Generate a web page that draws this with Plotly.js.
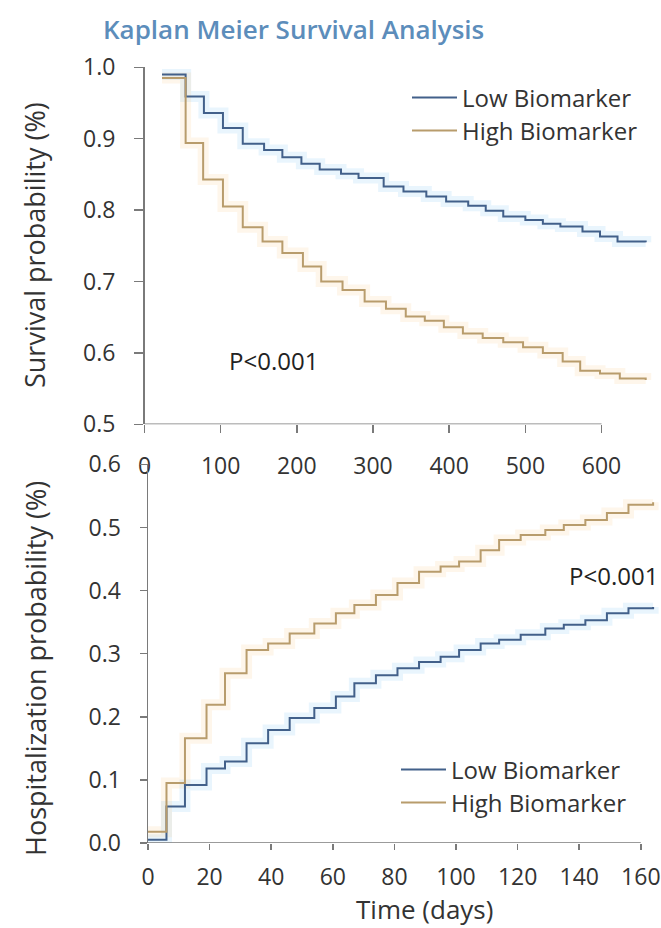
<!DOCTYPE html>
<html>
<head>
<meta charset="utf-8">
<script src="https://cdn.plot.ly/plotly-3.0.1.min.js"></script>
<style>
html,body{margin:0;padding:0;background:#fff;}
#chart{width:661px;height:928px;}
</style>
</head>
<body>
<div id="chart"></div>
<script>
// ---- Survival (top panel) ----
const survDaysLow = [23, 54, 78, 103, 129, 157, 181, 206, 230, 258, 281, 314, 340, 370, 396, 425, 448, 471, 500, 523, 546, 575, 598, 621, 658];
const survLow     = [0.990, 0.959, 0.936, 0.915, 0.893, 0.884, 0.874, 0.865, 0.857, 0.851, 0.845, 0.833, 0.826, 0.819, 0.812, 0.806, 0.799, 0.791, 0.786, 0.781, 0.777, 0.770, 0.763, 0.756, 0.755];
const survDaysHigh = [23, 54, 77, 103, 129, 155, 181, 208, 232, 260, 289, 317, 343, 368, 393, 418, 444, 471, 497, 523, 549, 572, 598, 624, 658];
const survHigh     = [0.985, 0.894, 0.843, 0.805, 0.776, 0.756, 0.740, 0.721, 0.700, 0.688, 0.672, 0.662, 0.651, 0.645, 0.636, 0.627, 0.621, 0.615, 0.608, 0.600, 0.588, 0.575, 0.571, 0.564, 0.562];

// ---- Hospitalization (bottom panel) ----
const hospDays = [0, 6, 12, 19, 25, 32, 39, 46, 54, 61, 67, 74, 81, 88, 95, 101, 108, 114, 121, 129, 135, 142, 149, 156, 164];
const hospLow  = [0.005, 0.058, 0.092, 0.118, 0.129, 0.158, 0.179, 0.198, 0.214, 0.232, 0.253, 0.266, 0.277, 0.287, 0.295, 0.306, 0.316, 0.322, 0.330, 0.340, 0.346, 0.353, 0.364, 0.372, 0.374];
const hospHigh = [0.018, 0.095, 0.166, 0.219, 0.269, 0.306, 0.316, 0.332, 0.348, 0.364, 0.377, 0.393, 0.412, 0.430, 0.438, 0.446, 0.464, 0.480, 0.488, 0.496, 0.504, 0.512, 0.523, 0.536, 0.540];

const seriesNames = ["Low Biomarker", "High Biomarker"];
const survTicks = [0, 100, 200, 300, 400, 500, 600];
const hospTicks = [0, 20, 40, 60, 80, 100, 120, 140, 160];

const W = 661, H = 928;
const FONT = "Open Sans, Lato, DejaVu Sans, sans-serif";
const blue = "#42608a", orange = "#b89c6c";
const blueHalo = "rgba(120,190,240,0.16)", orangeHalo = "rgba(250,195,120,0.15)";

function halo(x, y, color, xa, ya) {
  return {x: x, y: y, xaxis: xa, yaxis: ya, type: "scatter", mode: "lines",
    line: {shape: "hv", width: 11, color: color}, showlegend: false, hoverinfo: "skip"};
}
function main(x, y, color, name, xa, ya, leg) {
  return {x: x, y: y, xaxis: xa, yaxis: ya, type: "scatter", mode: "lines", name: name,
    line: {shape: "hv", width: 2, color: color}, legend: leg};
}

const data = [
  halo(survDaysLow, survLow, blueHalo, "x", "y"),
  halo(survDaysHigh, survHigh, orangeHalo, "x", "y"),
  main(survDaysLow, survLow, blue, seriesNames[0], "x", "y", "legend"),
  main(survDaysHigh, survHigh, orange, seriesNames[1], "x", "y", "legend2"),
  halo(hospDays, hospLow, blueHalo, "x2", "y2"),
  halo(hospDays, hospHigh, orangeHalo, "x2", "y2"),
  main(hospDays, hospLow, blue, seriesNames[0], "x2", "y2", "legend3"),
  main(hospDays, hospHigh, orange, seriesNames[1], "x2", "y2", "legend4")
];

const tickFont = {family: FONT, size: 23, color: "#333"};
const axCol = "#7a7a7a";

function leg(xpx, ypx) {
  return {x: xpx / W, y: (H - ypx) / H, xanchor: "left", yanchor: "middle",
    bgcolor: "rgba(0,0,0,0)", borderwidth: 0, font: {family: FONT, size: 24, color: "#333"},
    itemwidth: 45, tracegroupgap: 0};
}

const layout = {
  width: W, height: H,
  margin: {l: 0, r: 0, t: 0, b: 0, pad: 0},
  paper_bgcolor: "#fff", plot_bgcolor: "rgba(0,0,0,0)",
  font: {family: FONT, color: "#333"},
  showlegend: true,
  xaxis: {domain: [144.5 / W, 1], range: [0, (W - 144.5) / 0.7617], anchor: "y",
    tickmode: "array", tickvals: survTicks, ticktext: survTicks.map(String),
    ticks: "outside", ticklen: 8, tickcolor: axCol, tickwidth: 1.5,
    showline: false, showgrid: false, zeroline: false, tickfont: tickFont,
    ticklabelstandoff: 13, automargin: false, fixedrange: true},
  yaxis: {domain: [(H - 424.3) / H, (H - 67.3) / H], range: [0.5, 1.0], anchor: "x",
    dtick: 0.1, tick0: 0.5, tickformat: ".1f",
    ticks: "outside", ticklen: 9, tickcolor: axCol, tickwidth: 1.5,
    showline: true, linecolor: axCol, linewidth: 1.5, showgrid: false, zeroline: false,
    tickfont: tickFont, ticklabelstandoff: 14, automargin: false, fixedrange: true},
  xaxis2: {domain: [148 / W, 1], range: [0, (W - 148) / 3.08], anchor: "y2",
    tickmode: "array", tickvals: hospTicks, ticktext: hospTicks.map(String),
    ticks: "outside", ticklen: 6, tickcolor: axCol, tickwidth: 1.5,
    showline: false, showgrid: false, zeroline: false, tickfont: tickFont,
    ticklabelstandoff: 7, automargin: false, fixedrange: true},
  yaxis2: {domain: [(H - 843) / H, (H - 464.4) / H], range: [0, 0.6], anchor: "x2",
    dtick: 0.1, tick0: 0, tickformat: ".1f",
    ticks: "outside", ticklen: 7, tickcolor: axCol, tickwidth: 1.5,
    showline: true, linecolor: axCol, linewidth: 1.5, showgrid: false, zeroline: false,
    tickfont: tickFont, ticklabelstandoff: 14, automargin: false, fixedrange: true},
  legend: leg(407, 98),
  legend2: leg(407, 131),
  legend3: leg(396, 770),
  legend4: leg(396, 803),
  shapes: [
    {type: "line", xref: "x", yref: "y", x0: 0, x1: survTicks[survTicks.length - 1], y0: 0.5, y1: 0.5,
      line: {color: axCol, width: 1.5}},
    {type: "line", xref: "x2", yref: "y2", x0: 0, x1: hospTicks[hospTicks.length - 1], y0: 0, y1: 0,
      line: {color: axCol, width: 1.5}}
  ],
  annotations: [
    {text: "Kaplan Meier Survival Analysis", xref: "paper", yref: "paper",
      x: 293 / W, y: (H - 29) / H, xanchor: "center", yanchor: "middle", showarrow: false,
      font: {family: FONT, size: 26, color: "#5c8dbb", weight: 600}},
    {text: "Survival probability (%)", xref: "paper", yref: "paper", textangle: -90,
      x: 35 / W, y: (H - 245) / H, xanchor: "center", yanchor: "middle", showarrow: false,
      font: {family: FONT, size: 27, color: "#333"}},
    {text: "Hospitalization probability (%)", xref: "paper", yref: "paper", textangle: -90,
      x: 35 / W, y: (H - 669) / H, xanchor: "center", yanchor: "middle", showarrow: false,
      font: {family: FONT, size: 27, color: "#333"}},
    {text: "Time (days)", xref: "paper", yref: "paper",
      x: 424 / W, y: (H - 909) / H, xanchor: "center", yanchor: "middle", showarrow: false,
      font: {family: FONT, size: 26, color: "#333"}},
    {text: "P<0.001", xref: "paper", yref: "paper",
      x: 273 / W, y: (H - 360) / H, xanchor: "center", yanchor: "middle", showarrow: false,
      font: {family: FONT, size: 24, color: "#222"}},
    {text: "P<0.001", xref: "paper", yref: "paper",
      x: 613 / W, y: (H - 575) / H, xanchor: "center", yanchor: "middle", showarrow: false,
      font: {family: FONT, size: 24, color: "#222"}}
  ]
};

Plotly.newPlot("chart", data, layout, {staticPlot: true, displayModeBar: false});
</script>
</body>
</html>
